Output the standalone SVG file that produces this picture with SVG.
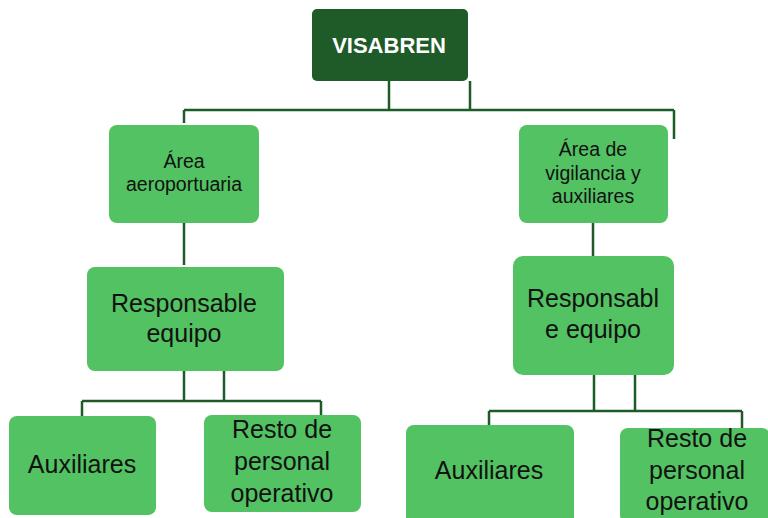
<svg xmlns="http://www.w3.org/2000/svg" width="768" height="518" viewBox="0 0 768 518">
<style>
.box{fill:#52c263;}
.dark{fill:#1f5b28;}
.t{font-family:"Liberation Sans",Arial,sans-serif;fill:#111;text-anchor:middle;}
.s{font-size:19.5px;}
.l{font-size:25px;}
.w{font-family:"Liberation Sans",Arial,sans-serif;fill:#fff;font-weight:bold;font-size:22px;text-anchor:middle;}
.c{stroke:#1f5b28;stroke-width:2.5;fill:none;}
</style>
<rect width="768" height="518" fill="#fff"/>
<g id="connectors">
<path class="c" d="M389,81V110M470,81V110M184,110H674M184,110V123M674,110V139"/>
<path class="c" d="M184,223V265"/>
<path class="c" d="M593,223V256"/>
<path class="c" d="M184,371V401M224,371V401M82,401H321M82,401V416M321,401V415"/>
<path class="c" d="M594,375V411M635,375V411M489,411H742M489,411V425M742,411V428"/>
</g>
<g id="visabren">
<rect class="dark" x="312" y="9" width="156" height="72" rx="5"/>
<text class="w" x="389" y="53">VISABREN</text>
</g>
<g id="area-aero">
<rect class="box" x="109" y="125" width="150" height="98" rx="8"/>
<text class="t s" x="184" y="168">Área</text>
<text class="t s" x="184" y="191">aeroportuaria</text>
</g>
<g id="area-vig">
<rect class="box" x="519" y="125" width="149" height="98" rx="8"/>
<text class="t s" x="593" y="156">Área de</text>
<text class="t s" x="593" y="180">vigilancia y</text>
<text class="t s" x="593" y="203">auxiliares</text>
</g>
<g id="resp-left">
<rect class="box" x="87" y="267" width="197" height="104" rx="8"/>
<text class="t l" x="184" y="312">Responsable</text>
<text class="t l" x="184" y="342">equipo</text>
</g>
<g id="resp-right">
<rect class="box" x="513" y="256" width="161" height="119" rx="10"/>
<text class="t l" x="593" y="307">Responsabl</text>
<text class="t l" x="593" y="338">e equipo</text>
</g>
<g id="aux-left">
<rect class="box" x="9" y="416" width="147" height="99" rx="8"/>
<text class="t l" x="82" y="473">Auxiliares</text>
</g>
<g id="resto-left">
<rect class="box" x="204" y="415" width="157" height="97" rx="8"/>
<text class="t l" x="282" y="438">Resto de</text>
<text class="t l" x="282" y="470">personal</text>
<text class="t l" x="282" y="502">operativo</text>
</g>
<g id="aux-right">
<rect class="box" x="406" y="425" width="168" height="100" rx="8"/>
<text class="t l" x="489" y="479">Auxiliares</text>
</g>
<g id="resto-right">
<rect class="box" x="620" y="428" width="150" height="95" rx="8"/>
<text class="t l" x="697" y="447">Resto de</text>
<text class="t l" x="697" y="479">personal</text>
<text class="t l" x="697" y="510">operativo</text>
</g>
</svg>
